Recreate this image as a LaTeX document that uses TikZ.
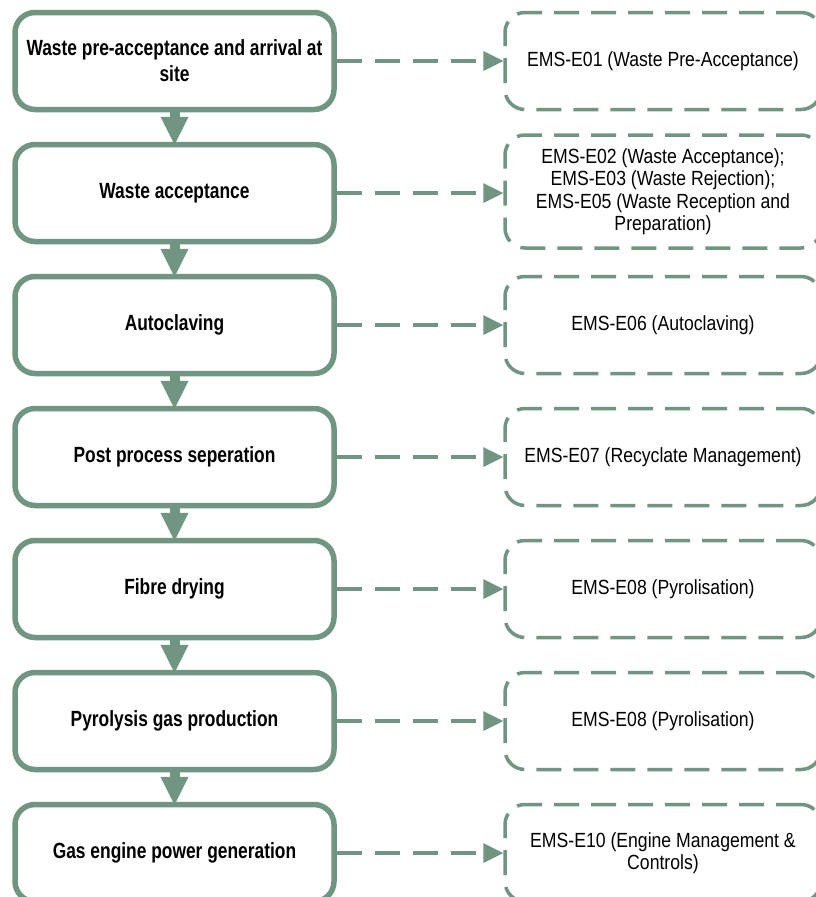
\documentclass[tikz,border=0pt]{standalone}
\usepackage{fontspec}
\setmainfont{Liberation Sans}
\newfontfamily\lfont[FakeStretch=0.79]{Liberation Sans}
\newfontfamily\rfont[FakeStretch=0.86]{Liberation Sans}
\usetikzlibrary{arrows.meta}
\definecolor{grn}{RGB}{112,150,131}
\begin{document}
\begin{tikzpicture}[x=1pt,y=-1pt,
  stage/.style={draw=grn, line width=5.5pt, rounded corners=20pt, minimum width=319pt, minimum height=97pt, inner sep=0pt, align=center, font=\lfont\bfseries\fontsize{22}{26}\selectfont},
  ems/.style={draw=grn, line width=3.5pt, dash pattern=on 25pt off 12pt, rounded corners=20pt, minimum width=316pt, minimum height=97pt, inner sep=0pt, align=center, font=\rfont\fontsize{20.5}{22.5}\selectfont},
  flow/.style={draw=grn, line width=10pt, -{Triangle[length=28pt,width=28pt,line width=0pt]}, shorten >=-3pt},
  link/.style={draw=grn, line width=4pt, dash pattern=on 25pt off 13pt, -{Triangle[length=20pt,width=20pt,line width=0pt]}}]
\useasboundingbox (0,0) rectangle (816,897);
\clip (0,0) rectangle (816,897);

\node[stage] (L1) at (174.5,61) {Waste pre-acceptance and arrival at\\site};
\node[stage] (L2) at (174.5,193) {Waste acceptance};
\node[stage] (L3) at (174.5,325) {Autoclaving};
\node[stage] (L4) at (174.5,457) {Post process seperation};
\node[stage] (L5) at (174.5,589) {Fibre drying};
\node[stage] (L6) at (174.5,721) {Pyrolysis gas production};
\node[stage] (L7) at (174.5,853) {Gas engine power generation};

\node[ems] (R1) at (663,61) {EMS-E01 (Waste Pre-Acceptance)};
\node[ems, minimum height=113pt] (R2) at (663,191.5) {EMS-E02 (Waste Acceptance);\\EMS-E03 (Waste Rejection);\\EMS-E05 (Waste Reception and\\Preparation)};
\node[ems] (R3) at (663,325) {EMS-E06 (Autoclaving)};
\node[ems] (R4) at (663,457) {EMS-E07 (Recyclate Management)};
\node[ems] (R5) at (663,589) {EMS-E08 (Pyrolisation)};
\node[ems] (R6) at (663,721) {EMS-E08 (Pyrolisation)};
\node[ems] (R7) at (663,853) {EMS-E10 (Engine Management \&\\Controls)};

\draw[flow] (L1.south) -- (L2.north);
\draw[flow] (L2.south) -- (L3.north);
\draw[flow] (L3.south) -- (L4.north);
\draw[flow] (L4.south) -- (L5.north);
\draw[flow] (L5.south) -- (L6.north);
\draw[flow] (L6.south) -- (L7.north);

\draw[link] (L1.east) -- (R1.west);
\draw[link] (L2.east) -- (L2.east -| R2.west);
\draw[link] (L3.east) -- (R3.west);
\draw[link] (L4.east) -- (R4.west);
\draw[link] (L5.east) -- (R5.west);
\draw[link] (L6.east) -- (R6.west);
\draw[link] (L7.east) -- (R7.west);
\end{tikzpicture}
\end{document}
